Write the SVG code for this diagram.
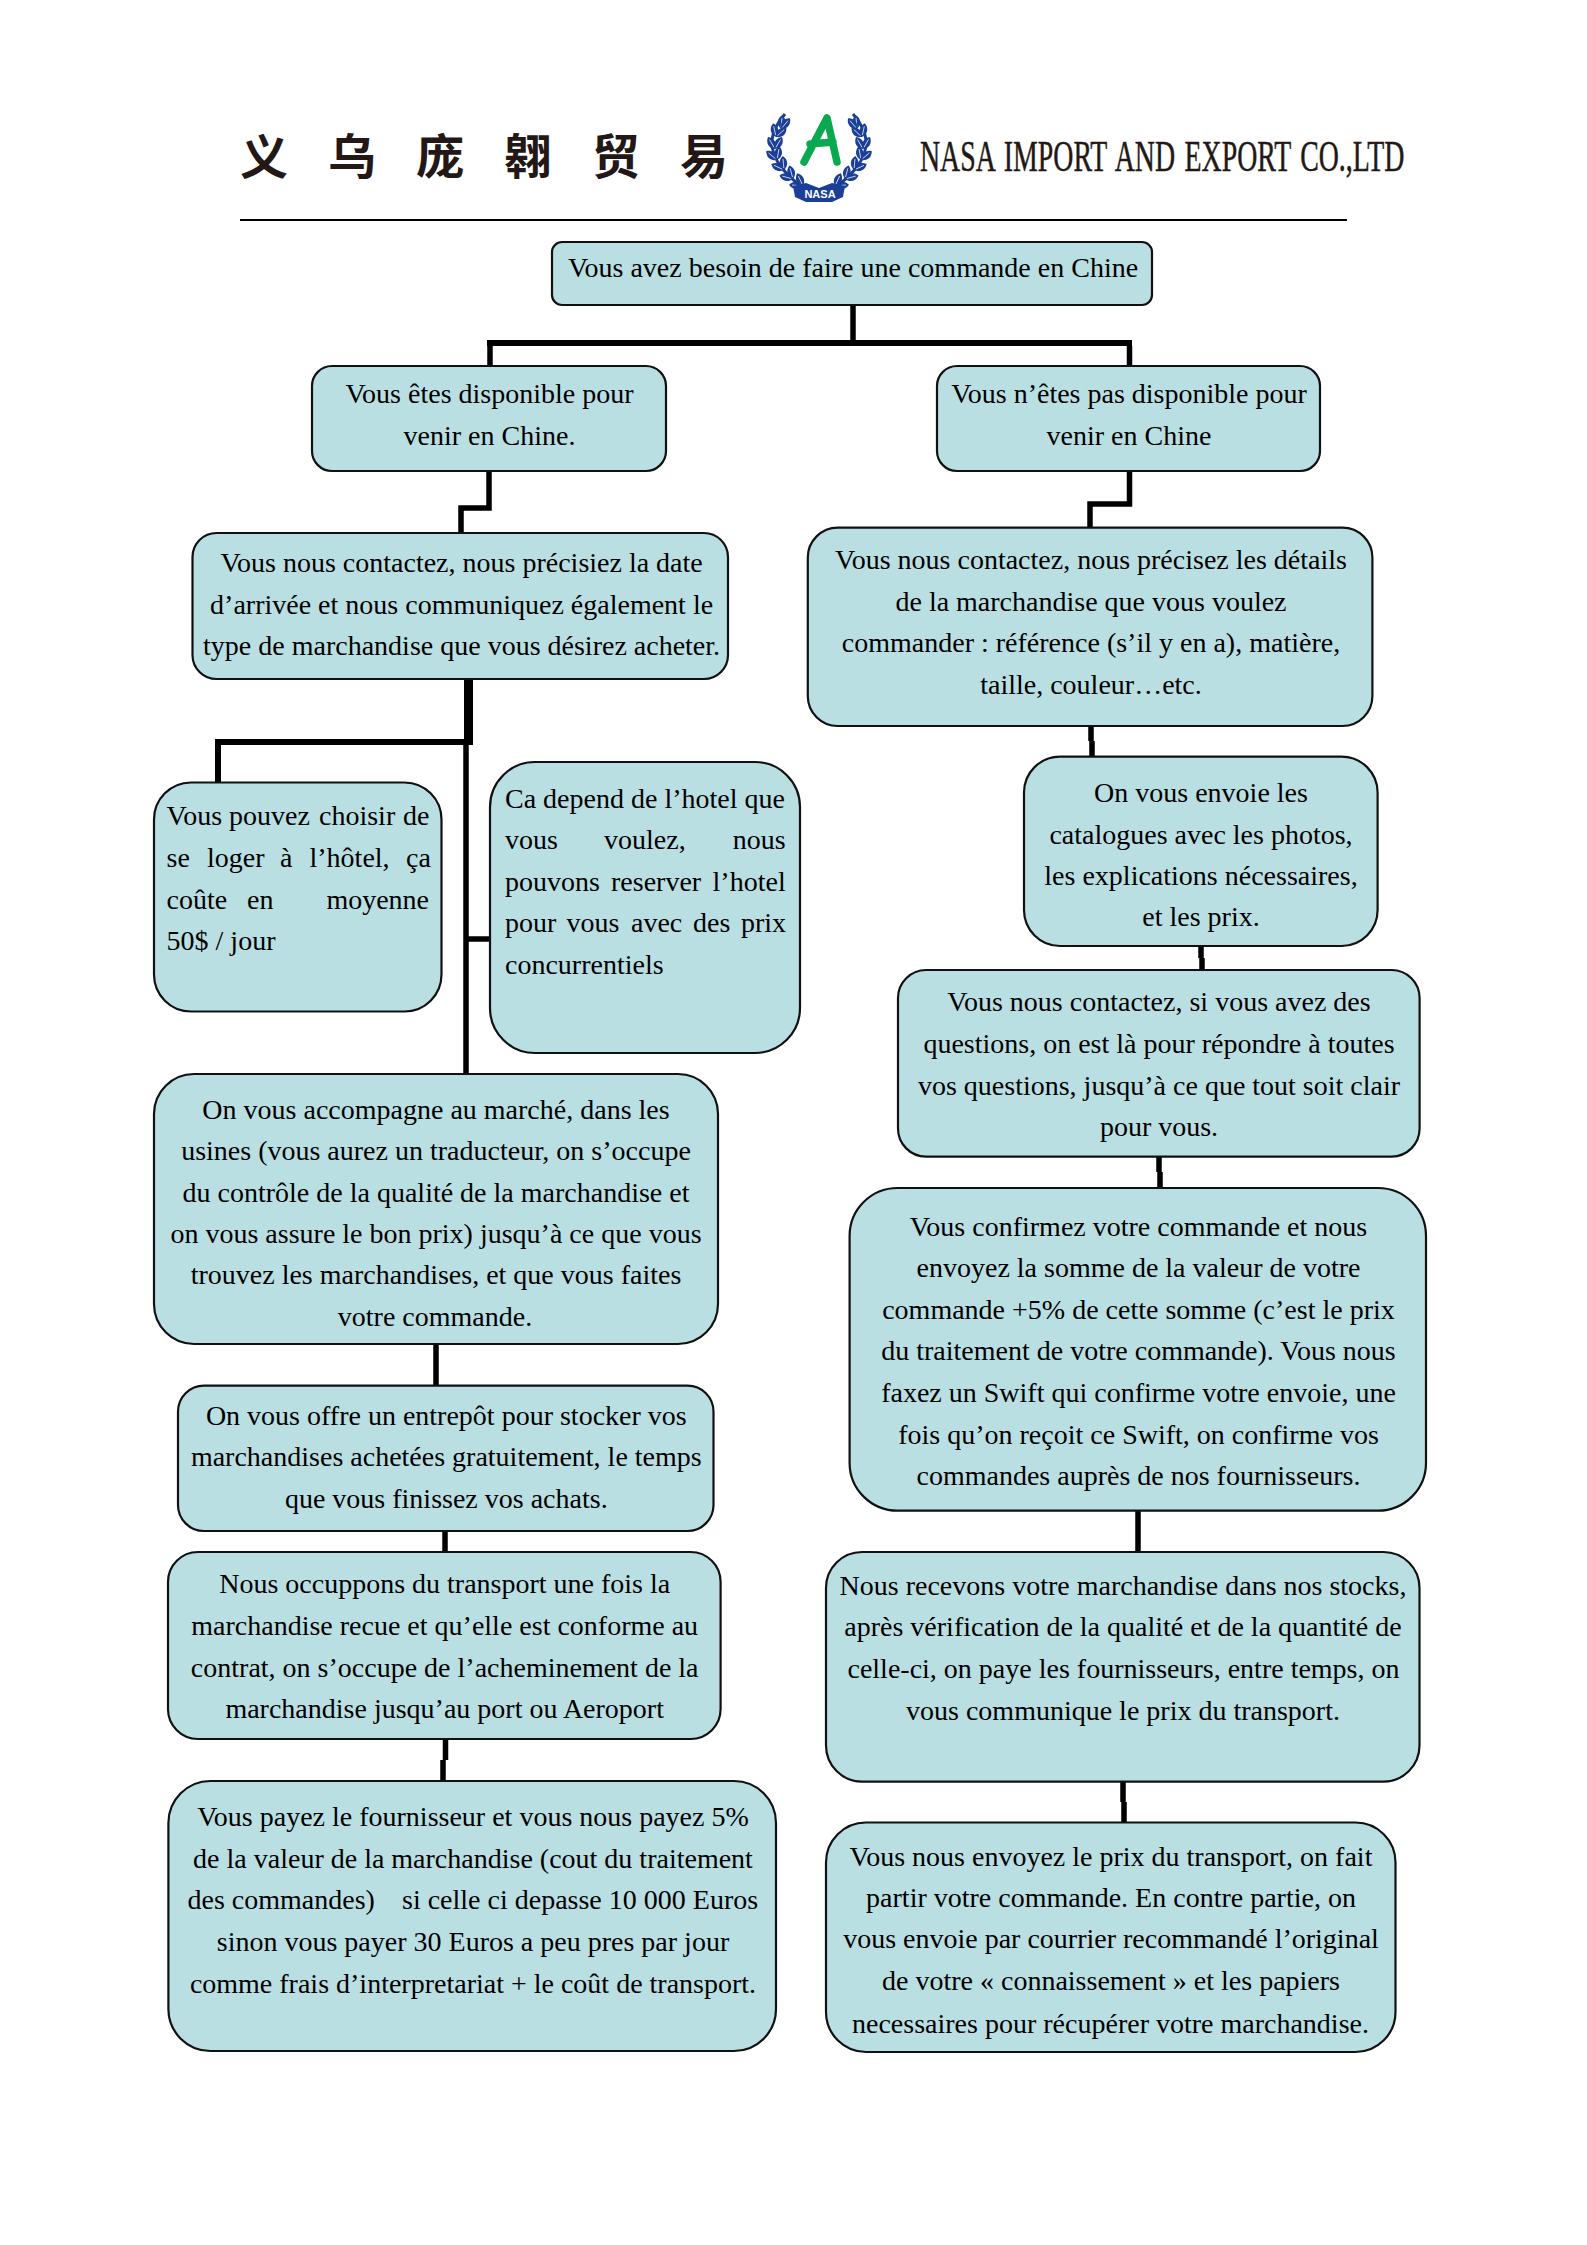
<svg xmlns="http://www.w3.org/2000/svg" xmlns:xlink="http://www.w3.org/1999/xlink" width="1587" height="2245" viewBox="0 0 1587 2245">
<style>
.box{fill:#b9dfe3;stroke:#111;stroke-width:2.2}
.t{font-family:"Liberation Serif","Times New Roman",serif;font-size:28px;fill:#000;text-anchor:middle}
.j{text-anchor:start}
.c{fill:none;stroke:#000;stroke-width:5.5}
.cn{font-family:"Noto Sans CJK SC",sans-serif;font-size:48px;font-weight:700;fill:#231815}
.en{font-family:"Liberation Serif",serif;font-size:44px;fill:#231815;stroke:#231815;stroke-width:.5;word-spacing:4px}
</style>
<defs>
<g id="leaf"><path d="M0 0C-5 -4 -5 -10 0 -14C5 -10 5 -4 0 0Z" fill="#1b3f96"/><path d="M0 -2V-11" stroke="#fff" stroke-width="0.7"/></g>
<g id="branch">
<path d="M808 190C790 180 770 160 772 140C773 130 778 122 785 114" fill="none" stroke="#1b3f96" stroke-width="3"/>
<use xlink:href="#leaf" href="#leaf" transform="translate(803 186) rotate(-85)"/>
<use xlink:href="#leaf" href="#leaf" transform="translate(803 186) rotate(-25)"/>
<use xlink:href="#leaf" href="#leaf" transform="translate(793 179) rotate(-75)"/>
<use xlink:href="#leaf" href="#leaf" transform="translate(793 179) rotate(-15)"/>
<use xlink:href="#leaf" href="#leaf" transform="translate(784 170) rotate(-65)"/>
<use xlink:href="#leaf" href="#leaf" transform="translate(784 170) rotate(-5)"/>
<use xlink:href="#leaf" href="#leaf" transform="translate(777 160) rotate(-50)"/>
<use xlink:href="#leaf" href="#leaf" transform="translate(777 160) rotate(10)"/>
<use xlink:href="#leaf" href="#leaf" transform="translate(775 149) rotate(-30)"/>
<use xlink:href="#leaf" href="#leaf" transform="translate(775 149) rotate(30)"/>
<use xlink:href="#leaf" href="#leaf" transform="translate(776 137) rotate(-12)"/>
<use xlink:href="#leaf" href="#leaf" transform="translate(776 137) rotate(48)"/>
<use xlink:href="#leaf" href="#leaf" transform="translate(781 129) rotate(5)"/>
<use xlink:href="#leaf" href="#leaf" transform="translate(781 129) rotate(40)"/>
</g>
</defs>
<rect width="1587" height="2245" fill="#fff"/>

<g id="header">
<text class="cn" x="240 328 416 504 592 680" y="174">义乌庞翱贸易</text>
<text class="en" transform="translate(920 171) scale(.633 1)" x="0" y="0">NASA IMPORT AND EXPORT CO.,LTD</text>
<g id="logo">
<use xlink:href="#branch" href="#branch"/>
<use xlink:href="#branch" href="#branch" transform="translate(1638 0) scale(-1 1)"/>
<path d="M793 186L806 183L819 188L832 183L845 186L843 197L832 202H806L795 197Z" fill="#1b3f96"/>
<path d="M804 162L827 118L837 162M810 144L833 142" fill="none" stroke="#0aa84f" stroke-width="7.500" stroke-linecap="round" stroke-linejoin="round"/>
<text x="820" y="198" font-family="Liberation Sans,sans-serif" font-size="11" font-weight="700" fill="#fff" text-anchor="middle">NASA</text>
</g>
<path d="M240 220H1347" stroke="#000" stroke-width="2"/>
</g>

<g id="connectors">
<path class="c" d="M853 305V343"/>
<path d="M487 340H1132V346H487Z" fill="#000"/>
<path class="c" d="M490 346V366M1129.500 346V366"/>
<path class="c" d="M489 471V508H461V533"/>
<path class="c" d="M1129.500 471V504H1090V528"/>
<path d="M464 679H473V745H464Z" fill="#000"/>
<path d="M215 739H473V745H215Z" fill="#000"/>
<path d="M215 745H221V783H215Z" fill="#000"/>
<path class="c" d="M466 745V1074"/>
<path class="c" d="M468 939H490"/>
<path class="c" d="M1091 726V741M1092 741V757"/>
<path class="c" d="M1201 946V958M1202 958V970"/>
<path class="c" d="M1159 1157V1172M1160 1172V1188"/>
<path class="c" d="M436 1344V1386"/>
<path class="c" d="M445 1531V1552"/>
<path class="c" d="M445.500 1739V1760M443 1760V1781"/>
<path class="c" d="M1138 1511V1552"/>
<path class="c" d="M1123 1782V1802M1124 1802V1823"/>
</g>

<g id="n-start">
<rect class="box" x="552" y="242" width="600" height="63" rx="10"/>
<text class="t" x="853" y="277">Vous avez besoin de faire une commande en Chine</text>
</g>
<g id="n-dispo">
<rect class="box" x="312" y="366" width="354" height="105" rx="20"/>
<text class="t" x="489.500" y="403">Vous êtes disponible pour</text>
<text class="t" x="489.500" y="445">venir en Chine.</text>
</g>
<g id="n-pasdispo">
<rect class="box" x="937" y="366" width="383" height="105" rx="20"/>
<text class="t" x="1129" y="403">Vous n’êtes pas disponible pour</text>
<text class="t" x="1129" y="445">venir en Chine</text>
</g>
<g id="n-contact-l">
<rect class="box" x="192.500" y="533" width="535.500" height="146" rx="24"/>
<text class="t" x="461.600" y="572">Vous nous contactez, nous précisiez la date</text>
<text class="t" x="461.600" y="613.600">d’arrivée et nous communiquez également le</text>
<text class="t" x="461.600" y="655">type de marchandise que vous désirez acheter.</text>
</g>
<g id="n-hotel">
<rect class="box" x="154" y="782.500" width="287.500" height="229" rx="37"/>
<text class="t j" y="825"><tspan x="166.600">Vous</tspan> <tspan x="229">pouvez</tspan> <tspan x="319">choisir</tspan> <tspan x="403">de</tspan></text>
<text class="t j" y="866.500"><tspan x="166.600">se</tspan> <tspan x="207">loger</tspan> <tspan x="280">à</tspan> <tspan x="309.500">l’hôtel,</tspan> <tspan x="406">ça</tspan></text>
<text class="t j" y="908.500"><tspan x="166.600">coûte</tspan> <tspan x="247">en</tspan> <tspan x="326.400">moyenne</tspan></text>
<text class="t j" x="166.600" y="949.500">50$ / jour</text>
</g>
<g id="n-depend">
<rect class="box" x="490" y="762" width="310" height="291" rx="45"/>
<text class="t j" x="505" y="807.500">Ca depend de l’hotel que</text>
<text class="t j" y="848.500"><tspan x="505">vous</tspan> <tspan x="604">voulez,</tspan> <tspan x="732.700">nous</tspan></text>
<text class="t j" y="890.500"><tspan x="505">pouvons</tspan> <tspan x="611">reserver</tspan> <tspan x="712.600">l’hotel</tspan></text>
<text class="t j" y="932"><tspan x="505">pour</tspan> <tspan x="566.600">vous</tspan> <tspan x="631">avec</tspan> <tspan x="693">des</tspan> <tspan x="741">prix</tspan></text>
<text class="t j" x="505" y="973.600">concurrentiels</text>
</g>
<g id="n-marche">
<rect class="box" x="154" y="1074" width="564" height="270" rx="40"/>
<text class="t" x="436" y="1119">On vous accompagne au marché, dans les</text>
<text class="t" x="436" y="1160">usines (vous aurez un traducteur, on s’occupe</text>
<text class="t" x="436" y="1201.700">du contrôle de la qualité de la marchandise et</text>
<text class="t" x="436" y="1243">on vous assure le bon prix) jusqu’à ce que vous</text>
<text class="t" x="436" y="1284.300">trouvez les marchandises, et que vous faites</text>
<text class="t" x="435" y="1326">votre commande.</text>
</g>
<g id="n-entrepot">
<rect class="box" x="178" y="1385.600" width="535.500" height="145.400" rx="26"/>
<text class="t" x="446.300" y="1425">On vous offre un entrepôt pour stocker vos</text>
<text class="t" x="446.300" y="1465.500">marchandises achetées gratuitement, le temps</text>
<text class="t" x="446.300" y="1508">que vous finissez vos achats.</text>
</g>
<g id="n-transport">
<rect class="box" x="168" y="1552" width="552.600" height="187" rx="30"/>
<text class="t" x="444.700" y="1593">Nous occuppons du transport une fois la</text>
<text class="t" x="444.700" y="1635">marchandise recue et qu’elle est conforme au</text>
<text class="t" x="444.700" y="1676.600">contrat, on s’occupe de l’acheminement de la</text>
<text class="t" x="444.700" y="1718">marchandise jusqu’au port ou Aeroport</text>
</g>
<g id="n-payez">
<rect class="box" x="168.400" y="1781" width="607.600" height="270" rx="42"/>
<text class="t" x="473" y="1826">Vous payez le fournisseur et vous nous payez 5%</text>
<text class="t" x="473" y="1868">de la valeur de la marchandise (cout du traitement</text>
<text class="t j" y="1908.500"><tspan x="187.500">des commandes)</tspan> <tspan x="402">si celle ci depasse 10 000 Euros</tspan></text>
<text class="t" x="473" y="1950.700">sinon vous payer 30 Euros a peu pres par jour</text>
<text class="t" x="473" y="1993">comme frais d’interpretariat + le coût de transport.</text>
</g>
<g id="n-contact-r">
<rect class="box" x="807.800" y="527.600" width="564.600" height="198.400" rx="30"/>
<text class="t" x="1091" y="569">Vous nous contactez, nous précisez les détails</text>
<text class="t" x="1091" y="610.600">de la marchandise que vous voulez</text>
<text class="t" x="1091" y="652">commander : référence (s’il y en a), matière,</text>
<text class="t" x="1091" y="694">taille, couleur…etc.</text>
</g>
<g id="n-catalogues">
<rect class="box" x="1024" y="756.600" width="353.600" height="189.400" rx="36"/>
<text class="t" x="1201" y="802">On vous envoie les</text>
<text class="t" x="1201" y="843.600">catalogues avec les photos,</text>
<text class="t" x="1201" y="885">les explications nécessaires,</text>
<text class="t" x="1201" y="926">et les prix.</text>
</g>
<g id="n-questions">
<rect class="box" x="898" y="970" width="521.600" height="186.600" rx="28"/>
<text class="t" x="1159" y="1011">Vous nous contactez, si vous avez des</text>
<text class="t" x="1159" y="1052.600">questions, on est là pour répondre à toutes</text>
<text class="t" x="1159" y="1094.500">vos questions, jusqu’à ce que tout soit clair</text>
<text class="t" x="1159" y="1136">pour vous.</text>
</g>
<g id="n-confirmez">
<rect class="box" x="849.600" y="1188" width="576.400" height="322.700" rx="48"/>
<text class="t" x="1138.500" y="1236">Vous confirmez votre commande et nous</text>
<text class="t" x="1138.500" y="1277">envoyez la somme de la valeur de votre</text>
<text class="t" x="1138.500" y="1318.500">commande +5% de cette somme (c’est le prix</text>
<text class="t" x="1138.500" y="1360">du traitement de votre commande). Vous nous</text>
<text class="t" x="1138.500" y="1402">faxez un Swift qui confirme votre envoie, une</text>
<text class="t" x="1138.500" y="1443.500">fois qu’on reçoit ce Swift, on confirme vos</text>
<text class="t" x="1138.500" y="1485">commandes auprès de nos fournisseurs.</text>
</g>
<g id="n-stocks">
<rect class="box" x="826" y="1552" width="593.500" height="229.600" rx="36"/>
<text class="t" x="1123" y="1595">Nous recevons votre marchandise dans nos stocks,</text>
<text class="t" x="1123" y="1636">après vérification de la qualité et de la quantité de</text>
<text class="t" x="1123.500" y="1677.500">celle-ci, on paye les fournisseurs, entre temps, on</text>
<text class="t" x="1123" y="1720">vous communique le prix du transport.</text>
</g>
<g id="n-envoyez">
<rect class="box" x="826" y="1822.500" width="569.500" height="229.500" rx="40"/>
<text class="t" x="1111" y="1865.500">Vous nous envoyez le prix du transport, on fait</text>
<text class="t" x="1111" y="1906.500">partir votre commande. En contre partie, on</text>
<text class="t" x="1111" y="1948">vous envoie par courrier recommandé l’original</text>
<text class="t" x="1111" y="1990">de votre « connaissement » et les papiers</text>
<text class="t" x="1110.500" y="2033">necessaires pour récupérer votre marchandise.</text>
</g>
</svg>
